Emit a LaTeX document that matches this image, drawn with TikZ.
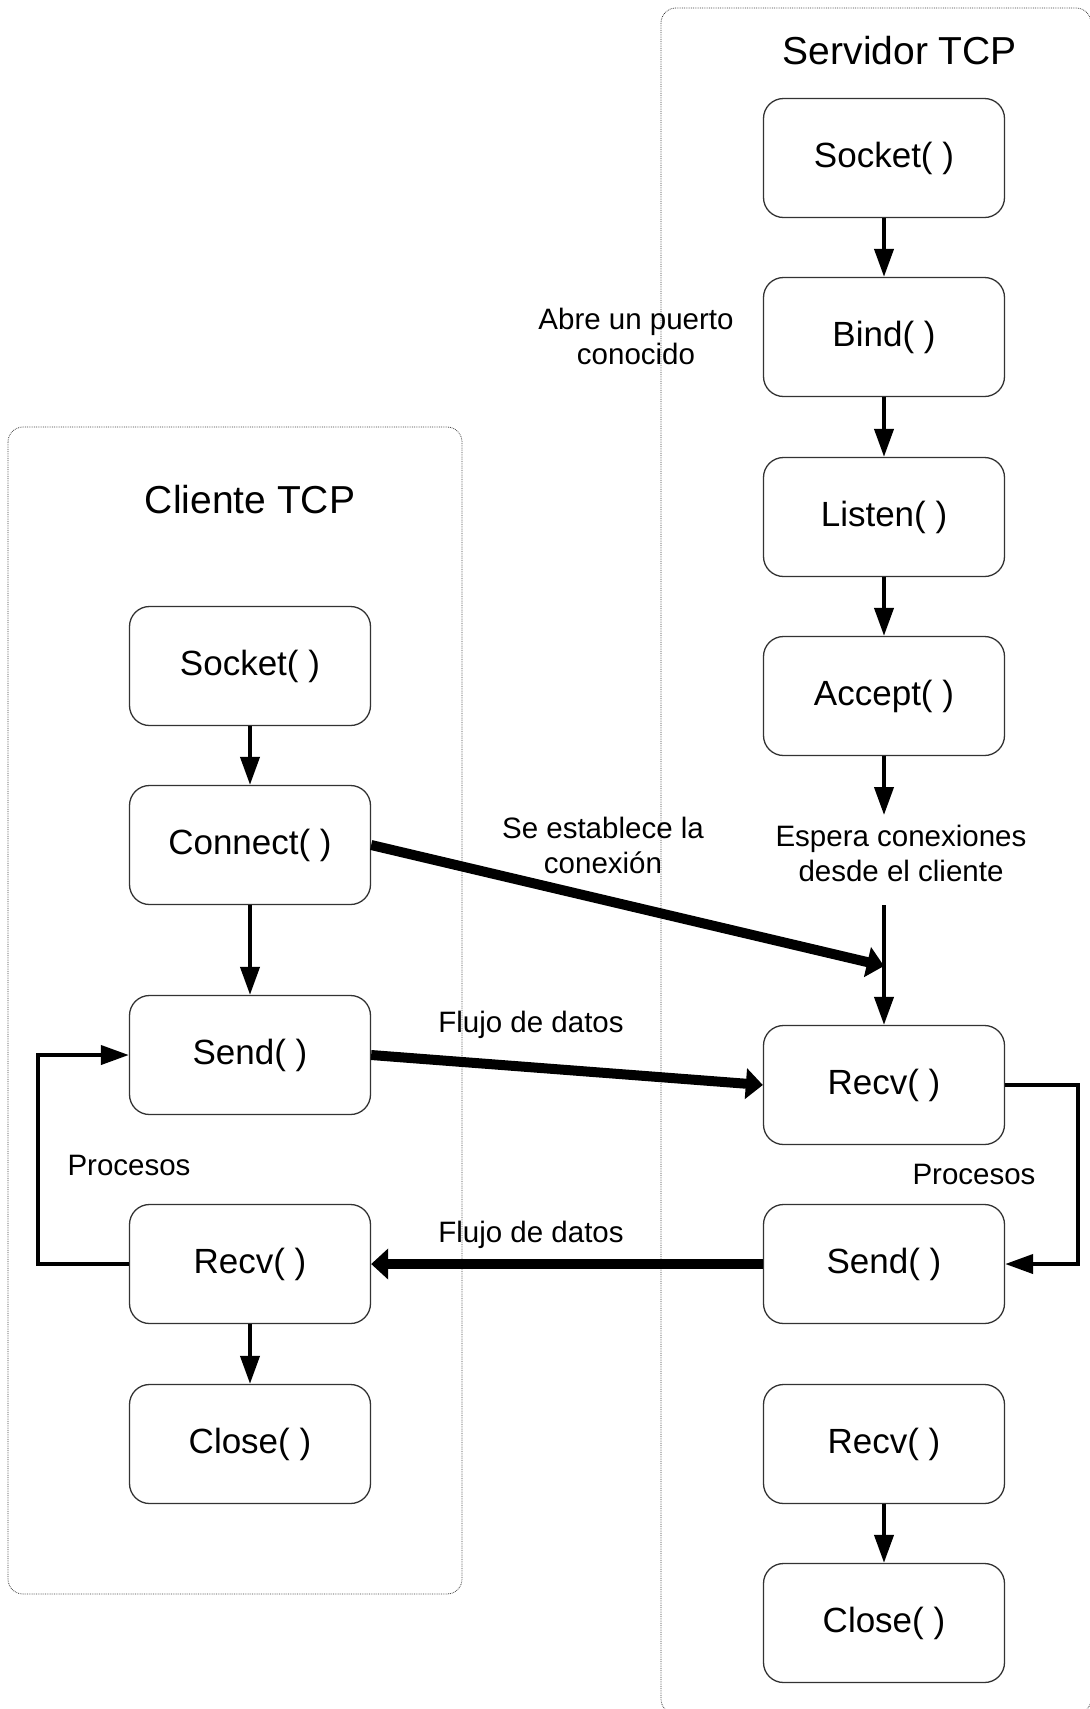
\documentclass[tikz,border=0pt]{standalone}
\usepackage{fontspec}
\setmainfont{Liberation Sans}
\usetikzlibrary{arrows.meta}
\begin{document}
\begin{tikzpicture}[x=1pt,y=-1pt,
  fnbox/.style={draw=black!80, line width=1.3pt, rounded corners=20pt,
    minimum width=241pt, minimum height=119pt, inner sep=0pt,
    font=\fontsize{35}{40}\selectfont},
  titletext/.style={font=\fontsize{39}{44}\selectfont, inner sep=0pt},
  lbl/.style={font=\fontsize{29.5}{35}\selectfont, align=center, inner sep=0pt},
  container/.style={draw=black!75, densely dotted, line width=0.8pt, rounded corners=15pt},
  thinarrow/.style={line width=4pt, -{Triangle[length=28pt,width=19pt]}},
  thickarrow/.style={line width=10pt, -{Triangle[length=17pt,width=30pt]}}
]
\useasboundingbox (0,0) rectangle (1090,1709);
\fill[white] (0,0) rectangle (1090,1709);

% containers
\draw[container] (8,427) rectangle (462,1594);
\draw[container] (661,8) rectangle (1091,1714);

% titles
\node[titletext] (tcli) at (250,500) {Cliente TCP};
\node[titletext] (tsrv) at (900,51) {Servidor TCP};

% client boxes
\node[fnbox] (cSocket)  at (250,666)  {Socket( )};
\node[fnbox] (cConnect) at (250,845)  {Connect( )};
\node[fnbox] (cSend)    at (250,1055) {Send( )};
\node[fnbox] (cRecv)    at (250,1264) {Recv( )};
\node[fnbox] (cClose)   at (250,1444) {Close( )};

% server boxes
\node[fnbox] (sSocket) at (884,158)  {Socket( )};
\node[fnbox] (sBind)   at (884,337)  {Bind( )};
\node[fnbox] (sListen) at (884,517)  {Listen( )};
\node[fnbox] (sAccept) at (884,696)  {Accept( )};
\node[fnbox] (sRecv)   at (884,1085) {Recv( )};
\node[fnbox] (sSend)   at (884,1264) {Send( )};
\node[fnbox] (sRecv2)  at (884,1444) {Recv( )};
\node[fnbox] (sClose)  at (884,1623) {Close( )};

% labels
\node[lbl] (labre) at (636,336) {Abre un puerto\\conocido};
\node[lbl] (lesp) at (901,853) {Espera conexiones\\desde el cliente};
\node[lbl] (lest) at (603,845) {Se establece la\\conexión};
\node[lbl] (lflujo1) at (531,1025) {Flujo de datos};
\node[lbl] (lflujo2) at (531,1235) {Flujo de datos};
\node[lbl] (lprocC) at (129,1165) {Procesos};
\node[lbl] (lprocS) at (974,1174) {Procesos};

\coordinate (acceptEnd) at (884,815);
\coordinate (waitStart) at (884,905);
\coordinate (connEnd) at (884,966);
\coordinate (cLoop) at (38,1264);
\coordinate (sLoop) at (1078,1085);

% client flow
\draw[thinarrow] (cSocket.south) -- (cConnect.north);
\draw[thinarrow] (cConnect.south) -- (cSend.north);
\draw[thinarrow] (cRecv.south) -- (cClose.north);
\draw[thinarrow] (cRecv.west) -- (cLoop) |- (cSend.west);

% server flow
\draw[thinarrow] (sSocket.south) -- (sBind.north);
\draw[thinarrow] (sBind.south) -- (sListen.north);
\draw[thinarrow] (sListen.south) -- (sAccept.north);
\draw[thinarrow] (sAccept.south) -- (acceptEnd);
\draw[thinarrow] (waitStart) -- (sRecv.north);
\draw[thinarrow] (sRecv.east) -- (sLoop) |- (sSend.east);
\draw[thinarrow] (sRecv2.south) -- (sClose.north);

% data flows
\draw[thickarrow] (cConnect.east) -- (connEnd);
\draw[thickarrow] (cSend.east) -- (sRecv.west);
\draw[thickarrow] (sSend.west) -- (cRecv.east);
\end{tikzpicture}
\end{document}
